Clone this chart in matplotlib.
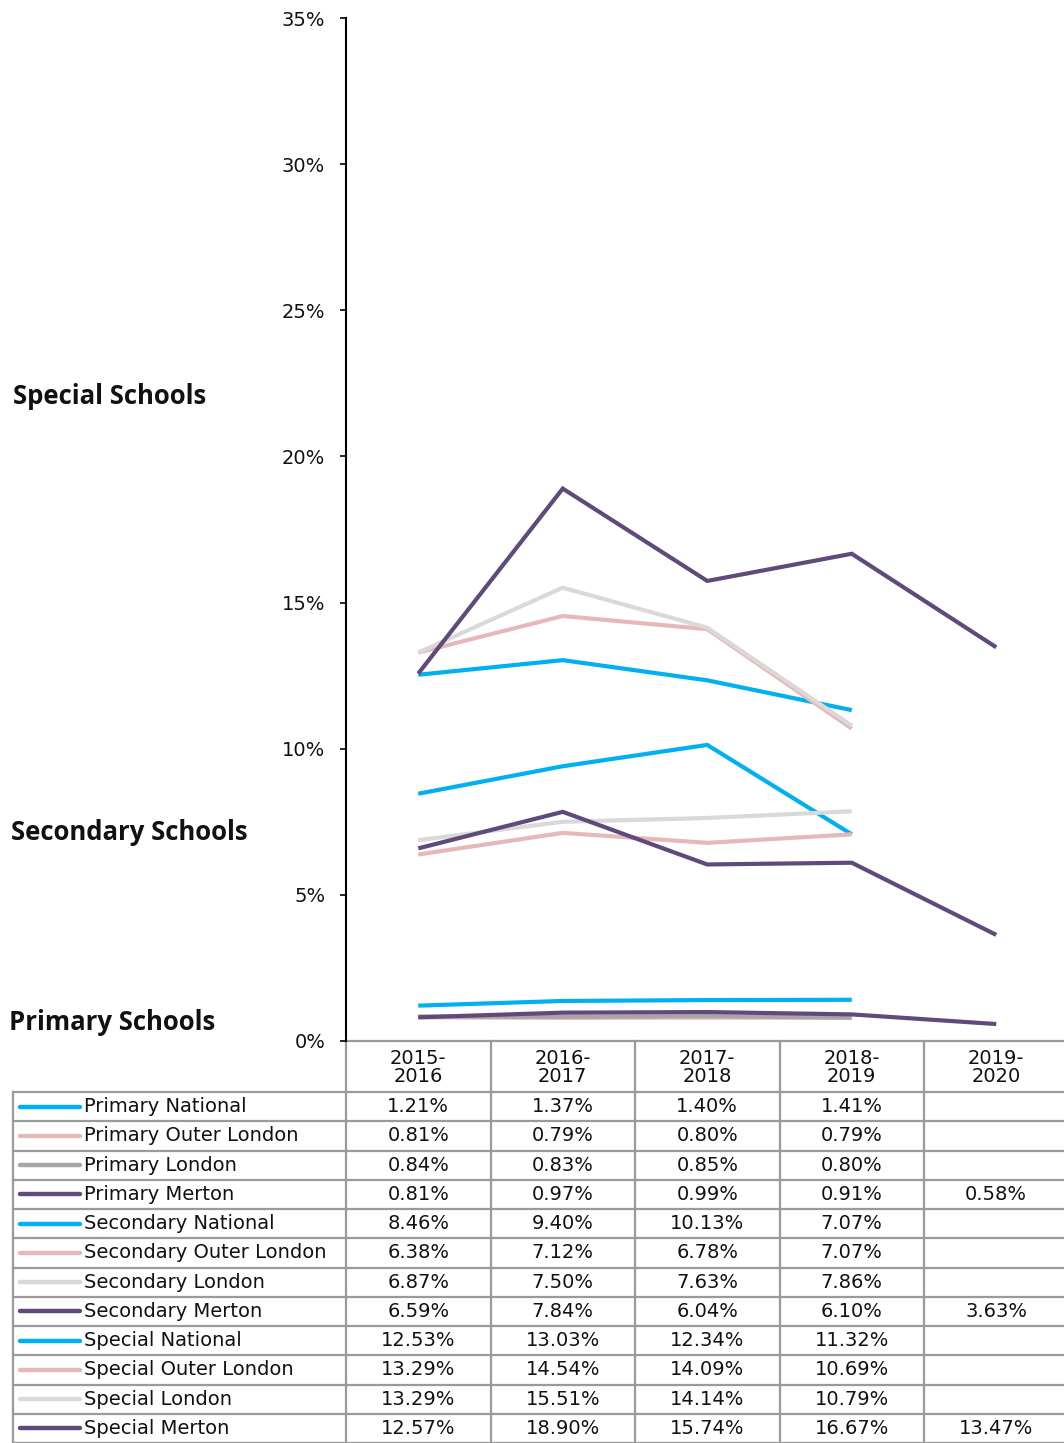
import numpy as np
import matplotlib
matplotlib.use("Agg")
import matplotlib.pyplot as plt
from matplotlib.lines import Line2D

# ---- data ----
years = ["2015-\n2016", "2016-\n2017", "2017-\n2018", "2018-\n2019", "2019-\n2020"]
series_names = [
    "Primary National", "Primary Outer London", "Primary London", "Primary Merton",
    "Secondary National", "Secondary Outer London", "Secondary London", "Secondary Merton",
    "Special National", "Special Outer London", "Special London", "Special Merton",
]
nan = np.nan
primary_national = [1.21, 1.37, 1.40, 1.41, nan]
primary_outer_london = [0.81, 0.79, 0.80, 0.79, nan]
primary_london = [0.84, 0.83, 0.85, 0.80, nan]
primary_merton = [0.81, 0.97, 0.99, 0.91, 0.58]
secondary_national = [8.46, 9.40, 10.13, 7.07, nan]
secondary_outer_london = [6.38, 7.12, 6.78, 7.07, nan]
secondary_london = [6.87, 7.50, 7.63, 7.86, nan]
secondary_merton = [6.59, 7.84, 6.04, 6.10, 3.63]
special_national = [12.53, 13.03, 12.34, 11.32, nan]
special_outer_london = [13.29, 14.54, 14.09, 10.69, nan]
special_london = [13.29, 15.51, 14.14, 10.79, nan]
special_merton = [12.57, 18.90, 15.74, 16.67, 13.47]
y_ticks = [0, 5, 10, 15, 20, 25, 30, 35]
group_labels = ["Special Schools", "Secondary Schools", "Primary Schools"]

values = [primary_national, primary_outer_london, primary_london, primary_merton,
          secondary_national, secondary_outer_london, secondary_london, secondary_merton,
          special_national, special_outer_london, special_london, special_merton]

c_nat = "#00B0F0"
c_outer = "#E6B9B8"
c_lon_p = "#A6A6A6"
c_lon = "#D9D9D9"
c_mer = "#604A7B"
colors = [c_nat, c_outer, c_lon_p, c_mer,
          c_nat, c_outer, c_lon, c_mer,
          c_nat, c_outer, c_lon, c_mer]

W, H = 1064, 1443
fig = plt.figure(figsize=(W / 100, H / 100), dpi=100)

# overlay axes in pixel coordinates for table and labels
tab = fig.add_axes([0, 0, 1, 1])
tab.set_xlim(0, W)
tab.set_ylim(H, 0)
tab.axis("off")

ax_left, ax_top, ax_bot = 346, 18, 1041
colw = 144.5
ax = fig.add_axes([ax_left / W, (H - ax_bot) / H, colw * 5 / W, (ax_bot - ax_top) / H])
ax.set_facecolor("none")
x = np.arange(len(years))
for vals, col in zip(values, colors):
    ax.plot(x, vals, color=col, lw=3.0, solid_capstyle="butt", solid_joinstyle="miter")
ax.set_xlim(-0.5, len(years) - 0.5)
ax.set_ylim(0, 35)
ax.set_yticks(y_ticks)
ax.set_yticklabels([f"{t}%" for t in y_ticks], fontsize=14, family="DejaVu Sans", color="#111111")
ax.tick_params(axis="y", direction="out", length=4, width=1.2, pad=11)
ax.set_xticks([])
for s in ["top", "right", "bottom"]:
    ax.spines[s].set_visible(False)
ax.spines["left"].set_linewidth(1.5)

# group labels
label_y = [397, 832, 1022]
label_x = [13, 11, 9]
for lab, lx, ly in zip(group_labels, label_x, label_y):
    tab.text(lx, ly, lab, fontsize=18.5, fontweight="bold", family="Open Sans",
             ha="left", va="center", color="#111111")

# table
gc = "#9a9a9a"
glw = 1.6
top_tab = 1041
hdr_bot = 1092
rowh = (H - hdr_bot) / len(series_names)
col_edges = [ax_left + i * colw for i in range(len(years) + 1)]
tab.plot([ax_left, W], [top_tab, top_tab], color=gc, lw=glw)
for r in range(len(series_names) + 1):
    yy = hdr_bot + r * rowh
    tab.plot([13, W], [yy, yy], color=gc, lw=glw)
tab.plot([13, 13], [hdr_bot, H], color=gc, lw=glw)
for ce in col_edges[:-1]:
    tab.plot([ce, ce], [top_tab, H], color=gc, lw=glw)

# header
for i, yl in enumerate(years):
    cx = ax_left + (i + 0.5) * colw
    tab.text(cx, (top_tab + hdr_bot) / 2 + 1, yl, ha="center", va="center",
             fontsize=14, family="DejaVu Sans", linespacing=0.9, color="#111111")

# rows
for r, (name, vals, col) in enumerate(zip(series_names, values, colors)):
    cy = hdr_bot + (r + 0.5) * rowh
    tab.add_line(Line2D([20, 80], [cy, cy], color=col, lw=3.2, solid_capstyle="round"))
    tab.text(84, cy, name, ha="left", va="center", fontsize=14,
             family="DejaVu Sans", color="#111111")
    for i, v in enumerate(vals):
        if not np.isnan(v):
            cx = ax_left + (i + 0.5) * colw
            tab.text(cx, cy, f"{v:.2f}%", ha="center", va="center", fontsize=14,
                     family="DejaVu Sans", color="#111111")

fig.savefig("out.png", dpi=100)
